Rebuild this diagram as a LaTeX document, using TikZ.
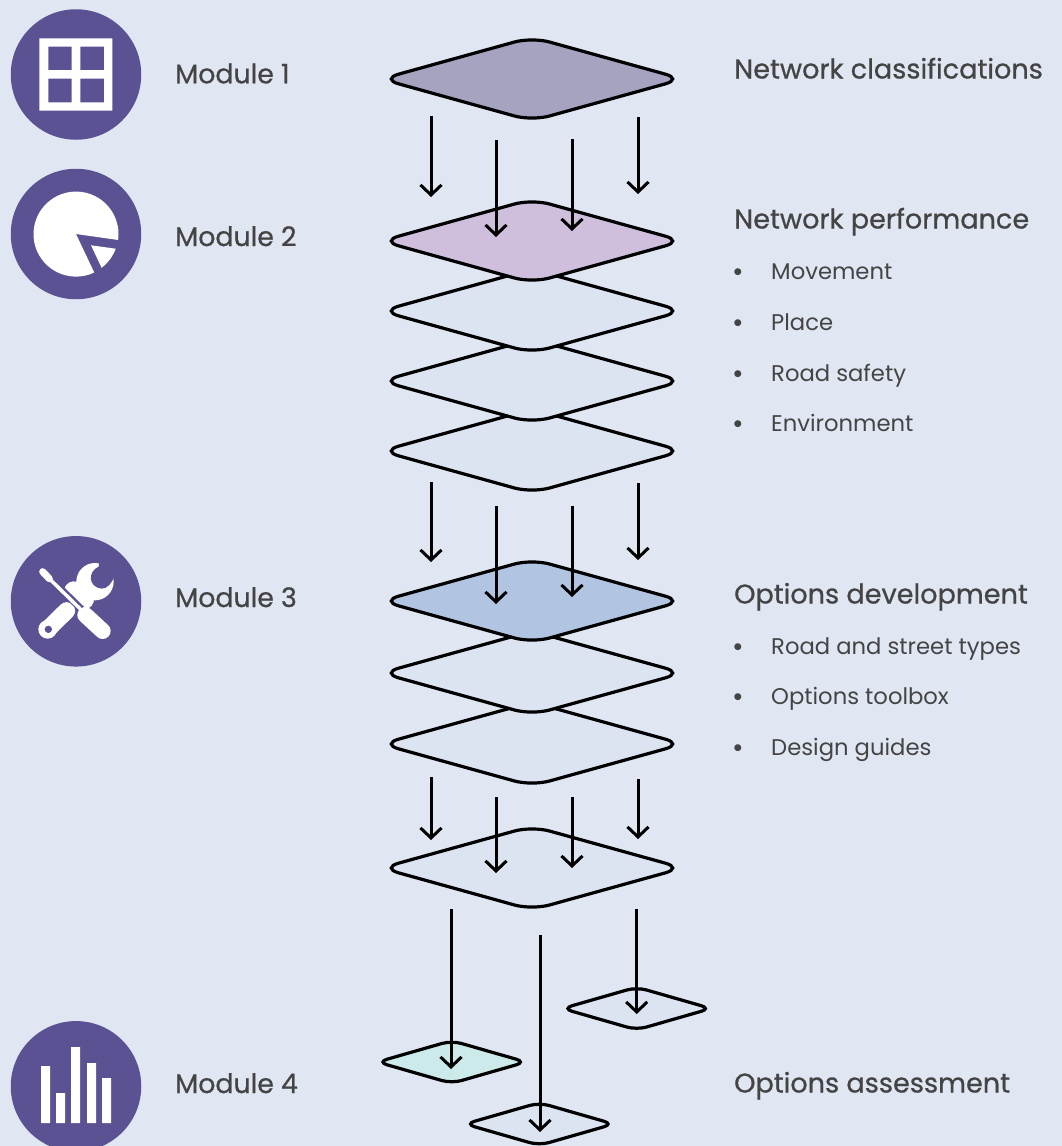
\documentclass[tikz,border=0pt]{standalone}
\usepackage{fontspec}
\usetikzlibrary{arrows.meta,shapes.geometric}
\setmainfont{Poppins}
\newfontfamily\hdfont[FakeBold=0.7]{Poppins}
\definecolor{bgc}{HTML}{E0E7F3}
\definecolor{lay}{HTML}{DCE3F1}
\definecolor{top}{HTML}{A5A3C0}
\definecolor{mauve}{HTML}{CFBFDD}
\definecolor{steel}{HTML}{B1C5E2}
\definecolor{teal}{HTML}{CBEAE9}
\definecolor{purp}{HTML}{5B5293}
\definecolor{ink}{HTML}{444444}
\tikzset{
 big/.style={shape=diamond,draw=black,line width=3.2pt,minimum width=303pt,minimum height=85pt,inner sep=0pt,rounded corners=18pt,fill=lay},
 small/.style={shape=diamond,draw=black,line width=3.2pt,minimum width=150pt,minimum height=44pt,inner sep=0pt,rounded corners=10pt,fill=lay},
 flow/.style={line width=3pt,-{Straight Barb[length=10pt,width=21pt,line width=3pt]}},
 modlabel/.style={anchor=base west,inner sep=0pt,text=ink,font=\hdfont\fontsize{26.8}{30}\selectfont},
 head/.style={anchor=base west,inner sep=0pt,text=ink,font=\hdfont\fontsize{27.1}{30}\selectfont},
 item/.style={anchor=base west,inner sep=0pt,text=ink,font=\fontsize{22.7}{28}\selectfont},
 bullet/.style={anchor=base west,inner sep=0pt,text=ink,font=\fontsize{28}{30}\selectfont},
 badge/.style={shape=circle,fill=purp,minimum size=130.5pt,inner sep=0pt},
}
\begin{document}
\begin{tikzpicture}[x=1pt,y=-1pt]
\path[use as bounding box,fill=bgc] (0,0) rectangle (1062,1146);
\clip (0,0) rectangle (1062,1146);
% badges
\node[badge] (b1) at (76,74.5) {};
\node[badge] (b2) at (76,234) {};
\node[badge] (b3) at (76,601.3) {};
\node[badge] (b4) at (76,1086.3) {};
% grid icon
\fill[white,even odd rule] (39.3,38.3) rectangle (112.3,110.7)
  (48.3,46.7) rectangle (71.7,70) (80.3,46.7) rectangle (104,70)
  (48.3,78.7) rectangle (71.7,102.3) (80.3,78.7) rectangle (104,102.3);
% pie icon: angles are in the flipped axes of this picture
\fill[white] (76,234) -- (118.1,240) arc[start angle=8,end angle=-295.4,radius=42.5] -- cycle;
\fill[white] (91,245.3) -- (115.7,248.7) arc[start angle=20.3,end angle=52.7,radius=42.5] -- cycle;
% tools icon
\begin{scope}[shift={(0,530)},x=0.3333pt,y=-0.3333pt]
 \fill[white] (285,155) circle[radius=56];
 \fill[purp] (298,92) -- (296,110) .. controls (262,125) and (265,172) .. (305,176)
   .. controls (322,176) and (335,160) .. (343,140) -- (365,135) -- (365,85) -- cycle;
 \draw[white,line width=20pt,line cap=round] (222,184) -- (252,208);
 \draw[white,line width=17pt,line cap=round] (143,298) -- (200,242);
 \fill[white] (143,298) circle[radius=28];
 \fill[purp] (145,298) circle[radius=11];
 \draw[purp,line width=7pt] (150,145) -- (245,238);
 \draw[white,line width=3.5pt,line cap=round] (130,128) -- (150,148) -- (240,236);
 \draw[white,line width=7pt,line cap=round] (128,125) -- (148,146);
 \draw[white,line width=16pt,line cap=round] (256,255) -- (308,303);
\end{scope}
% bars icon
\fill[white] (41,1066) rectangle (50,1123) (56,1093) rectangle (65,1123)
  (71,1047) rectangle (80,1123) (87,1063) rectangle (96,1123) (102,1078) rectangle (111,1123);
% layers
\node[big,fill=top] (d1) at (532,79) {};
\node[big] (d5) at (532,451) {};
\node[big] (d4) at (532,381) {};
\node[big] (d3) at (532,311) {};
\node[big,fill=mauve] (d2) at (532,241) {};
\node[big] (d8) at (532,744) {};
\node[big] (d7) at (532,673) {};
\node[big,fill=steel] (d6) at (532,601) {};
\node[big] (d9) at (532,868) {};
\node[small,fill=teal] (s1) at (451.7,1062) {};
\node[small] (s2) at (636.7,1008.5) {};
\node[small] (s3) at (539.3,1124) {};
% arrows
\foreach \x/\a/\b [count=\i] in {431/116/197,496/140/237,572/139/231,638/117/194,
  431/482/562,496/506/604,572/506/597,638/483/560,
  431/777/840,496/797/873,572/797/868,638/779/839,
  451/909/1069,540/935/1132,636.7/909/1014}{
  \coordinate (from\i) at (\x,\a);
  \coordinate (to\i) at (\x,\b);
  \draw[flow] (from\i) -- (to\i);
}
% labels
\node[modlabel] (m1) at (175,83.3) {Module 1};
\node[modlabel] (m2) at (175,246) {Module 2};
\node[modlabel] (m3) at (175,607) {Module 3};
\node[modlabel] (m4) at (175,1093) {Module 4};
\node[head] (h1) at (734,78.5) {Network classifications};
\node[head] (h2) at (734,228.5) {Network performance};
\node[head] (h3) at (734,603.5) {Options development};
\node[head] (h4) at (734,1092.5) {Options assessment};
\foreach \t/\y [count=\i] in {Movement/279,Place/330,Road safety/381,Environment/431,
  Road and street types/654,Options toolbox/704,Design guides/755}{
  \node[item] (it\i) at (771,\y) {\t};
  \node[bullet] (bu\i) at (732,\y+2) {•};
}
\end{tikzpicture}
\end{document}
